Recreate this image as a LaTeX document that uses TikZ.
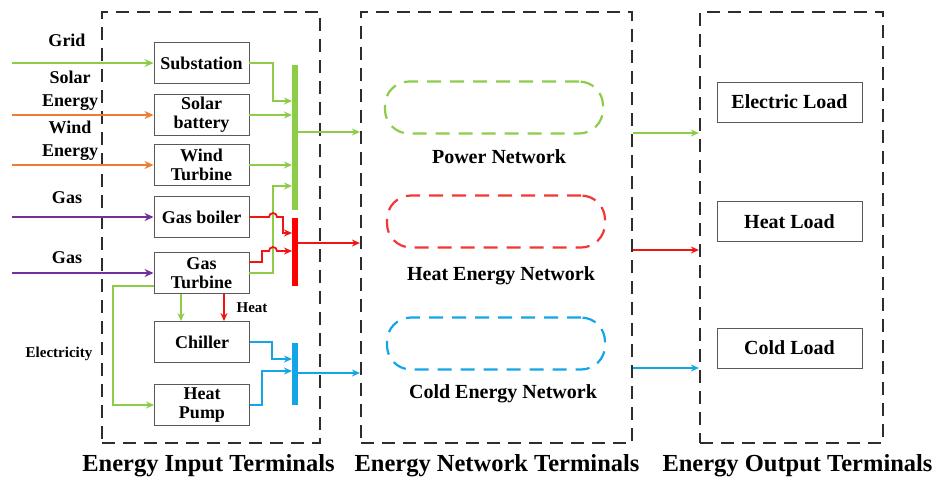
\documentclass[tikz,border=0pt]{standalone}
\usepackage{fontspec}
\setmainfont{Liberation Serif}
\usetikzlibrary{arrows.meta}
\definecolor{cgreen}{RGB}{140,204,70}
\definecolor{corange}{RGB}{237,125,49}
\definecolor{cpurple}{RGB}{112,48,160}
\definecolor{cred}{RGB}{240,20,20}
\definecolor{cblue}{RGB}{20,165,230}
\definecolor{cframe}{RGB}{45,45,45}
\tikzset{
  dev/.style={draw=black!65, line width=0.9pt, minimum width=95pt, minimum height=41pt,
    font=\fontsize{18}{19}\selectfont\bfseries, align=center, inner sep=1pt},
  load/.style={draw=black!65, line width=0.9pt, minimum width=145pt, minimum height=40pt,
    font=\fontsize{20}{22}\selectfont\bfseries, inner sep=1pt},
  termbox/.style={draw=cframe, line width=2.2pt, dash pattern=on 13pt off 8pt,
    minimum height=431pt, inner sep=0pt},
  netov/.style={line width=2.2pt, dash pattern=on 14pt off 9pt, rounded corners=24pt,
    minimum width=218pt, minimum height=52pt, inner sep=0pt},
  bus/.style={minimum width=6pt, inner sep=0pt, outer sep=0pt, draw=none},
  lbl/.style={font=\fontsize{18}{23}\selectfont\bfseries, align=center, inner sep=0pt},
  smalllbl/.style={font=\fontsize{15}{17}\selectfont\bfseries, inner sep=0pt},
  netlbl/.style={font=\fontsize{20}{22}\selectfont\bfseries, inner sep=0pt},
  title/.style={font=\fontsize{24.5}{26}\selectfont\bfseries, inner sep=0pt},
  arr/.style={line width=1.8pt, -{Stealth[length=8pt,width=7pt]}},
  inarr/.style={line width=2.2pt, -{Stealth[length=9pt,width=8pt]}}
}
\begin{document}
\begin{tikzpicture}[x=1pt,y=-1pt]
\useasboundingbox (0,0) rectangle (939,483);
% terminal frames
\node[termbox, minimum width=218pt] (inbox) at (211,227.5) {};
\node[termbox, minimum width=271pt] (netbox) at (496.5,227.5) {};
\node[termbox, minimum width=183pt] (outbox) at (791.5,227.5) {};
% titles
\node[title] (t1) at (208.5,466) {Energy Input Terminals};
\node[title] (t2) at (497,466) {Energy Network Terminals};
\node[title] (t3) at (797.5,466) {Energy Output Terminals};
% devices
\node[dev] (sub) at (201.5,63) {Substation};
\node[dev] (sol) at (201.5,115) {Solar\\battery};
\node[dev] (wind) at (201.5,165) {Wind\\Turbine};
\node[dev] (gb) at (201.5,217) {Gas boiler};
\node[dev] (gt) at (201.5,273) {Gas\\Turbine};
\node[dev] (ch) at (202,342) {Chiller};
\node[dev] (hp) at (202,405) {Heat\\Pump};
% buses
\node[bus, fill=cgreen, minimum height=145pt] (gbus) at (295,137.5) {};
\node[bus, fill=red, minimum height=68pt] (rbus) at (295,252) {};
\node[bus, fill=cblue, minimum height=62pt] (bbus) at (295,374) {};
% left labels
\node[lbl] (lgrid) at (67,40) {Grid};
\node[lbl] (lsolar) at (70,91) {Solar\\Energy};
\node[lbl] (lwind) at (70,141) {Wind\\Energy};
\node[lbl] (lgas1) at (67,198) {Gas};
\node[lbl] (lgas2) at (67,258) {Gas};
\node[smalllbl] (lelec) at (59,354) {Electricity};
\node[smalllbl] (lheat) at (252,308) {Heat};
% inputs
\coordinate (gridS) at (12,63);
\coordinate (solS) at (12,115);
\coordinate (windS) at (12,165);
\coordinate (gas1S) at (12,217);
\coordinate (gas2S) at (12,273);
\draw[inarr,cgreen] (gridS) -- (sub.west);
\draw[inarr,corange] (solS) -- (sol.west);
\draw[inarr,corange] (windS) -- (wind.west);
\draw[inarr,cpurple] (gas1S) -- (gb.west);
\draw[inarr,cpurple] (gas2S) -- (gt.west);
% to green bus
\draw[arr,cgreen] (sub.east) -- (273,63) -- (273,101) -- (gbus.west |- 0,101);
\draw[arr,cgreen] (sol.east) -- (gbus.west |- sol.east);
\draw[arr,cgreen] (wind.east) -- (gbus.west |- wind.east);
\draw[arr,cgreen] (gt.east) -- (273,273) -- (273,186) -- (gbus.west |- 0,186);
% to red bus (with bridges over green line)
\draw[arr,cred] (gb.east) -- (269,217) arc[start angle=180,end angle=0,radius=4pt]
   -- (283,217) -- (283,233) -- (rbus.west |- 0,233);
\draw[arr,cred] ([yshift=11pt]gt.east) -- (262,262) -- (262,251) -- (269,251)
   arc[start angle=180,end angle=0,radius=4pt] -- (rbus.west |- 0,251);
% to blue bus
\draw[arr,cblue] (ch.east) -- (272,342) -- (272,359) -- (bbus.west |- 0,359);
\draw[arr,cblue] (hp.east) -- (262,405) -- (262,371) -- (bbus.west |- 0,371);
% gas turbine to chiller / heat pump
\draw[arr,cgreen] (gt.south -| 181,0) -- (ch.north -| 181,0);
\draw[arr,cred] (gt.south -| 224,0) -- (ch.north -| 224,0);
\draw[arr,cgreen] ([yshift=-13pt]gt.west) -- (113,286) -- (113,405) -- (hp.west);
% buses to network
\draw[arr,cgreen] (gbus.east |- 0,132) -- (netbox.west |- 0,132);
\draw[arr,cred] (rbus.east |- 0,243) -- (netbox.west |- 0,243);
\draw[arr,cblue] (bbus.east |- 0,373) -- (netbox.west |- 0,373);
% networks
\node[netov, draw=cgreen] (pnet) at (494,107.5) {};
\node[netov, draw=cred!85!white] (hnet) at (496,221.5) {};
\node[netov, draw=cblue] (cnet) at (496,343.5) {};
\node[netlbl] (lp) at (499,157) {Power Network};
\node[netlbl] (lh) at (501,276) {Heat Energy Network};
\node[netlbl] (lc) at (503,394) {Cold Energy Network};
% network to output
\draw[arr,cgreen] (netbox.east |- 0,133) -- (outbox.west |- 0,133);
\draw[arr,cred] (netbox.east |- 0,250) -- (outbox.west |- 0,250);
\draw[arr,cblue] (netbox.east |- 0,368) -- (outbox.west |- 0,368);
% loads
\node[load] (el) at (789.5,102) {Electric Load};
\node[load] (hl) at (789.5,221.5) {Heat Load};
\node[load] (cl) at (789.5,348) {Cold Load};
\end{tikzpicture}
\end{document}
